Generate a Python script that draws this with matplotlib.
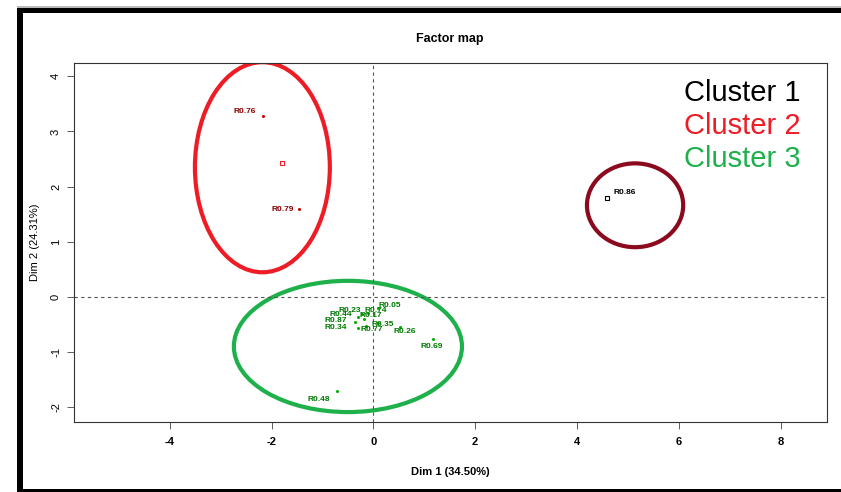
import matplotlib
matplotlib.use("Agg")
import matplotlib.pyplot as plt
from matplotlib.patches import Ellipse, Rectangle
from matplotlib import font_manager

names = ["R0.76", "R0.79", "R0.86", "R0.05", "R0.23", "R0.44", "R0.74", "R0.17",
         "R0.87", "R0.34", "R0.35", "R0.77", "R0.26", "R0.69", "R0.48"]
dim1 = [-2.17, -1.46, 4.59, 0.09, -0.23, -0.30, -0.11, -0.19,
        -0.36, -0.30, 0.09, -0.15, 0.52, 1.17, -0.72]
dim2 = [3.27, 1.60, 1.80, -0.20, -0.31, -0.36, -0.29, -0.40,
        -0.45, -0.56, -0.47, -0.53, -0.54, -0.76, -1.71]
cluster = [2, 2, 1, 3, 3, 3, 3, 3, 3, 3, 3, 3, 3, 3, 3]
centroid2 = (-1.80, 2.43)

clusters = ["Cluster 1", "Cluster 2", "Cluster 3"]
ell_cx = [5.14, -2.18, -0.50]
ell_cy = [1.66, 2.35, -0.90]
ell_w = [1.89, 2.65, 4.48]
ell_h = [1.52, 3.81, 2.38]

x_ticks = [-4, -2, 0, 2, 4, 6, 8]
y_ticks = [-2, -1, 0, 1, 2, 3, 4]

# styles / layout
lab_off = {"R0.76": (-18, 5), "R0.79": (-16, -1), "R0.86": (18, 5),
           "R0.05": (12, 2), "R0.23": (-12, 3), "R0.44": (-17, 2), "R0.74": (8, 2),
           "R0.17": (7, 3), "R0.87": (-19, 1), "R0.34": (-22, 0), "R0.35": (5, -2),
           "R0.77": (6, -3), "R0.26": (5, -5), "R0.69": (-1, -8), "R0.48": (-18, -8)}
point_col = {1: "black", 2: "#CC0000", 3: "#00B000"}
label_col = {1: "black", 2: "#8B0000", 3: "#007A00"}
ell_col = ["#8B0A1E", "#EE1C25", "#1DB04B"]
legend_col = ["black", "#EE1C25", "#1DB04B"]

avail = {f.name for f in font_manager.fontManager.ttflist}
narrow = "Liberation Sans Narrow" if "Liberation Sans Narrow" in avail else "Liberation Sans"

fig = plt.figure(figsize=(8.41, 4.92), dpi=100)
ax = fig.add_axes([73.5 / 841, 70 / 492, 753 / 841, 359 / 492])
ax.set_xlim(-5.89, 8.90)
ax.set_ylim(-2.27, 4.24)

ax.axhline(0, color="#555555", ls=(0, (3, 3)), lw=0.8)
ax.axvline(0, color="#555555", ls=(0, (3, 3)), lw=0.8)

for i in range(3):
    ax.add_patch(Ellipse((ell_cx[i], ell_cy[i]), ell_w[i], ell_h[i], fill=False,
                         ec=ell_col[i], lw=3))

for n, x, y, c in zip(names, dim1, dim2, cluster):
    if c == 1:
        ax.plot(x, y, marker="s", ms=3, mfc="none", mec="black", mew=0.8)
    else:
        ax.plot(x, y, marker="o", ms=2.2, color=point_col[c], mew=0)
    ax.annotate(n, (x, y), xytext=lab_off[n], textcoords="offset pixels",
                ha="center", va="center", fontsize=6, family=narrow,
                fontweight="bold", color=label_col[c])
ax.plot(*centroid2, marker="s", ms=3.5, mfc="none", mec="#EE1C25", mew=0.8)

for i, name in enumerate(clusters):
    ax.text(0.965, [0.916, 0.825, 0.733][i], name, transform=ax.transAxes,
            ha="right", va="center", fontsize=21, family="Liberation Sans",
            color=legend_col[i])

ax.set_xticks(x_ticks)
ax.set_yticks(y_ticks)
ax.set_xticklabels([str(t) for t in x_ticks], family=narrow, fontsize=8, fontweight="bold")
ax.set_yticklabels([str(t) for t in y_ticks], family="Liberation Sans", fontsize=8,
                   rotation=90, va="center")
ax.tick_params(axis="x", length=5, width=0.6, color="#444444", pad=6)
ax.tick_params(axis="y", length=5, width=0.6, color="#444444", pad=4)
for s in ax.spines.values():
    s.set_linewidth(0.8)
    s.set_color("#333333")

ax.set_title("Factor map", family=narrow, fontsize=9, fontweight="bold", pad=15)
ax.set_xlabel("Dim 1 (34.50%)", family=narrow, fontsize=8, fontweight="bold", labelpad=14)
ax.set_ylabel("Dim 2 (24.31%)", family="Liberation Sans", fontsize=8, labelpad=8)

# frame decoration
fig.add_artist(Rectangle((17 / 841, 0), 6 / 841, 484 / 492, transform=fig.transFigure,
                         color="black", lw=0))
fig.add_artist(Rectangle((17 / 841, 1 - 13 / 492), 1 - 17 / 841, 5 / 492,
                         transform=fig.transFigure, color="black", lw=0))
fig.add_artist(Rectangle((17 / 841, 1 - 8 / 492), 1 - 17 / 841, 1.5 / 492,
                         transform=fig.transFigure, color="#BBBBBB", lw=0))
fig.add_artist(Rectangle((17 / 841, 0), 1 - 17 / 841, 3 / 492, transform=fig.transFigure,
                         color="black", lw=0))

fig.savefig("out.png", dpi=100)
